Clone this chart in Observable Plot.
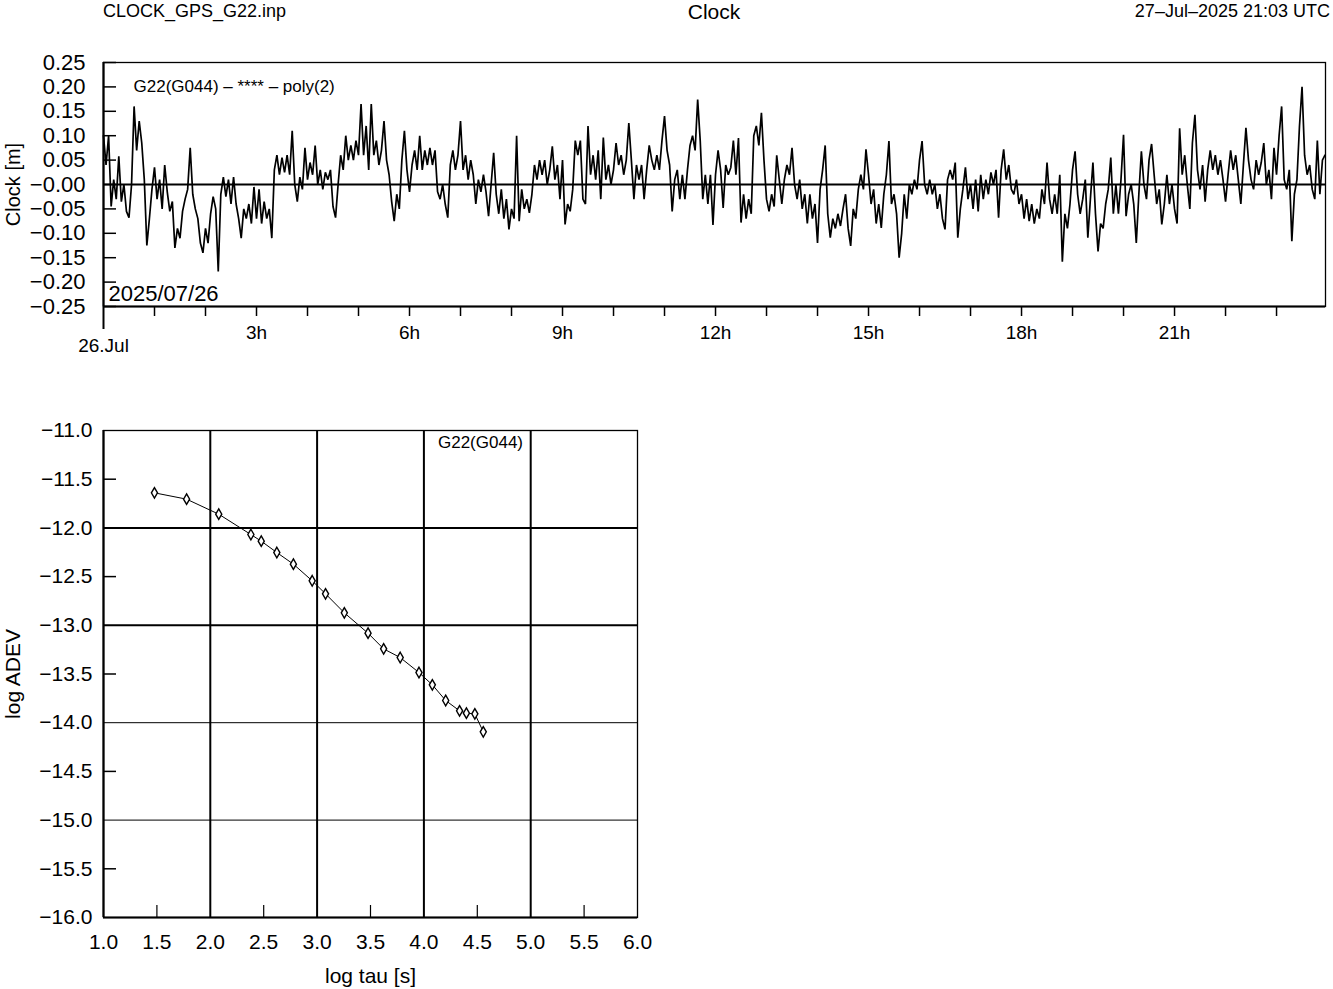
<!DOCTYPE html>
<html><head><meta charset="utf-8">
<script src="https://cdn.jsdelivr.net/npm/d3@7"></script>
<script src="https://cdn.jsdelivr.net/npm/@observablehq/plot@0.6"></script>
<style>
body{margin:0;background:#fff;font-family:"Liberation Sans",Arial,Helvetica,sans-serif;}
#page{position:relative;width:1333px;height:989px;overflow:hidden;background:#fff}
.hdr{position:absolute;top:0;font-size:18px;line-height:22px;color:#000;white-space:nowrap}
#top,#bot{position:absolute;left:0}
#top{top:0}#bot{top:370px}
</style></head><body>
<div id="page">
<div id="top"></div><div id="bot"></div>
<div class="hdr" style="left:103px;top:0px">CLOCK_GPS_G22.inp</div>
<div class="hdr" style="left:0;width:1428px;text-align:center;font-size:21px;top:0px;line-height:24px">Clock</div>
<div class="hdr" style="right:3px;top:0px">27–Jul–2025 21:03 UTC</div>
</div>
<script>
const stepH = 0.05;
const clock00_04 = [0.10,0.04,0.10,-0.045,0.01,-0.03,0.058,-0.035,0.00,-0.055,
-0.068,0.00,0.16,0.07,0.13,0.085,0.01,-0.125,-0.07,-0.01,
0.035,-0.03,0.01,-0.05,0.04,-0.015,-0.055,-0.035,-0.13,-0.09,
-0.11,-0.055,-0.03,-0.01,0.075,-0.02,-0.05,-0.07,-0.12,-0.14,
-0.09,-0.12,-0.06,-0.025,-0.05,-0.178,-0.02,0.015,-0.025,0.01,
-0.04,0.015,-0.04,-0.07,-0.11,-0.05,-0.07,-0.04,-0.08,-0.005,
-0.07,-0.01,-0.08,-0.035,-0.07,-0.05,-0.11,0.03,0.06,0.02,
0.055,0.025,0.06,0.02,0.11,0.00,-0.035,0.015,-0.01,0.075];
const clock04_08 = [0.01,0.045,0.02,0.08,0.00,0.03,-0.01,0.025,0.01,0.03,
-0.045,-0.068,0.00,0.06,0.03,0.10,0.05,0.08,0.05,0.09,
0.06,0.165,0.06,0.12,0.03,0.165,0.06,0.09,0.04,0.07,
0.13,0.05,0.02,-0.035,-0.075,-0.02,-0.05,0.05,0.11,0.03,
-0.015,0.04,0.07,0.03,0.10,0.03,0.07,0.04,0.075,0.04,
0.07,-0.015,-0.03,0.00,-0.04,-0.068,0.04,0.07,0.03,0.06,
0.13,0.03,0.06,0.01,0.05,0.02,-0.04,0.01,-0.015,0.02,
-0.015,-0.065,0.00,0.065,-0.02,-0.06,-0.01,-0.07,-0.03,-0.092];
const clock08_12 = [-0.05,-0.07,0.10,-0.075,-0.01,-0.05,-0.03,-0.058,-0.02,0.04,
0.01,0.05,0.02,0.05,0.00,0.03,0.078,0.01,0.04,-0.03,
0.05,-0.082,-0.04,-0.055,-0.01,0.09,0.06,0.09,-0.03,-0.04,
0.12,0.02,0.06,0.01,0.07,-0.03,0.096,0.01,0.04,0.00,
0.03,0.085,0.04,0.06,0.02,0.05,0.126,0.05,-0.03,0.04,
0.01,0.04,-0.03,0.03,0.08,0.05,0.03,0.06,0.03,0.09,
0.14,0.07,0.04,-0.055,0.01,0.03,-0.03,0.02,-0.03,0.03,
0.08,0.10,0.07,0.174,0.09,-0.03,0.02,-0.04,0.02,-0.083];
const clock12_16 = [0.02,0.07,0.03,-0.048,0.04,0.02,0.035,0.09,0.02,0.095,
-0.078,-0.02,-0.07,-0.03,-0.06,0.10,0.12,0.08,0.147,0.05,
-0.03,-0.055,-0.02,-0.045,0.06,0.01,-0.04,0.01,0.04,0.02,
0.075,0.00,-0.03,0.01,-0.05,-0.02,-0.08,-0.02,-0.07,-0.04,
-0.12,-0.01,0.03,0.08,-0.06,-0.109,-0.07,-0.09,-0.06,-0.085,
-0.05,-0.02,-0.09,-0.126,-0.05,-0.07,-0.01,0.02,-0.01,0.072,
0.02,-0.04,-0.01,-0.08,-0.04,-0.089,-0.02,0.02,0.089,-0.04,
-0.02,-0.06,-0.15,-0.10,-0.02,-0.07,0.00,-0.02,0.01,-0.01];
const clock16_20 = [0.05,0.089,0.00,-0.02,0.01,-0.02,0.00,-0.05,-0.02,-0.07,
-0.092,0.01,0.03,0.01,0.045,-0.109,-0.05,-0.01,0.035,-0.03,
0.00,-0.05,0.01,-0.055,0.02,-0.03,0.01,-0.02,0.025,0.00,
0.03,-0.068,0.03,0.072,0.01,0.04,-0.01,-0.02,0.01,-0.04,
-0.02,-0.07,-0.03,-0.075,-0.04,-0.08,-0.05,-0.07,-0.01,-0.04,
0.045,-0.03,-0.06,-0.02,-0.06,0.02,-0.158,-0.06,-0.09,-0.04,
0.03,0.068,-0.02,-0.06,-0.03,0.01,-0.109,-0.03,0.045,-0.06,
-0.137,-0.08,-0.09,-0.04,-0.01,0.055,-0.06,0.00,-0.06,0.01];
const clock20_24 = [0.102,-0.065,-0.02,0.00,-0.04,-0.12,-0.02,0.068,0.00,-0.03,
0.05,0.083,0.02,-0.04,-0.01,-0.082,-0.04,0.02,-0.04,0.00,
-0.05,-0.08,0.115,0.02,0.06,0.00,-0.05,0.085,0.143,0.03,
-0.01,0.04,-0.035,0.03,0.07,0.03,0.06,0.02,0.05,0.01,
-0.035,0.02,0.07,0.03,0.06,0.01,-0.04,0.04,0.116,0.05,
0.01,-0.01,0.05,0.02,0.045,0.085,0.00,0.03,-0.03,0.075,
0.02,0.10,0.16,0.01,-0.01,0.03,-0.116,-0.02,0.01,0.12,
0.20,0.06,0.02,0.04,-0.01,-0.03,0.09,-0.02,0.05,0.06];
const clockM = [...clock00_04,...clock04_08,...clock08_12,...clock12_16,...clock16_20,...clock20_24];
const clockSeries = clockM.map((v,i)=>({t:i*stepH, v}));

const clockYTicks = [-0.25,-0.20,-0.15,-0.10,-0.05,0,0.05,0.10,0.15,0.20,0.25];
const hourTicks = [1,2,3,4,5,6,7,8,9,10,11,12,13,14,15,16,17,18,19,20,21,22,23];
const dayLabel = "26.Jul";
const dateLabel = "2025/07/26";
const clockTitle = "G22(G044) – **** – poly(2)";

// ---- Allan deviation
const logTau  = [1.477,1.778,2.079,2.380,2.477,2.623,2.778,2.954,3.079,3.255,3.477,3.623,3.778,3.954,4.079,4.204,4.334,4.398,4.477,4.556];
const logAdev = [-11.64,-11.705,-11.859,-12.068,-12.136,-12.253,-12.372,-12.543,-12.677,-12.872,-13.081,-13.242,-13.331,-13.485,-13.611,-13.772,-13.878,-13.902,-13.909,-14.094];
const adevSeries = logTau.map((x,i)=>({x, y:logAdev[i]}));
const adevXTicks = [1.0,1.5,2.0,2.5,3.0,3.5,4.0,4.5,5.0,5.5,6.0];
const adevYTicks = [-16.0,-15.5,-15.0,-14.5,-14.0,-13.5,-13.0,-12.5,-12.0,-11.5,-11.0];
const adevMinorX = [1.5,2.5,3.5,4.5,5.5];
const adevMinorY = [-15.5,-14.5,-13.5,-12.5,-11.5];
const adevLabel = "G22(G044)";

const FONT = '"Liberation Sans", Arial, Helvetica, sans-serif';
const fmt2 = d3.format(".2f"), fmt1 = d3.format(".1f");

// ---------- top chart
const T = {w:1333,h:370,ml:103,mr:8,mt:62,mb:64};
const topPlot = Plot.plot({
  width:T.w, height:T.h, marginLeft:T.ml, marginRight:T.mr, marginTop:T.mt, marginBottom:T.mb,
  style:{fontFamily:FONT, fontSize:"21px", color:"#000", background:"transparent"},
  x:{domain:[0,23.96], label:null},
  y:{domain:[-0.25,0.25], label:null},
  marks:[
    Plot.frame({stroke:"#000", strokeWidth:1.3}),
    Plot.ruleX([0],{stroke:"#000",strokeWidth:2.2}),
    Plot.ruleY([-0.25],{stroke:"#000",strokeWidth:2.2}),
    Plot.ruleY([0],{stroke:"#000",strokeWidth:2}),
    Plot.line(clockSeries,{x:"t",y:"v",stroke:"#000",strokeWidth:1.7,strokeLinejoin:"miter"}),
    Plot.tickY(clockYTicks,{y:d=>d,stroke:"#000",strokeWidth:1.5,insetRight:(T.w-T.ml-T.mr)-13}),
    Plot.axisY(clockYTicks,{anchor:"left",tickSize:0,tickPadding:18,fontSize:22,
      tickFormat:d=> d===0 ? "−0.00" : fmt2(d)}),
    Plot.axisX(hourTicks,{anchor:"bottom",tickSize:10,tickPadding:9,fontSize:19,strokeWidth:1.5,
      tickFormat:d=> d%3===0 ? d+"h" : ""}),
    Plot.axisX([0],{anchor:"bottom",tickSize:23,tickPadding:9,fontSize:19,strokeWidth:2,
      tickFormat:()=>dayLabel}),
    Plot.text(["Clock [m]"],{frameAnchor:"left",dx:-90,rotate:-90,fontSize:20,textAnchor:"middle",lineAnchor:"middle",fill:"#000"}),
    Plot.text([clockTitle],{frameAnchor:"top-left",dx:30,dy:24,textAnchor:"start",lineAnchor:"middle",fontSize:17,fill:"#000"}),
    Plot.text([dateLabel],{frameAnchor:"bottom-left",dx:5,dy:-13,textAnchor:"start",lineAnchor:"middle",fontSize:22,fill:"#000"})
  ]
});
document.getElementById("top").appendChild(topPlot);

// ---------- bottom chart
const B = {w:660,h:619,ml:103,mr:23,mt:60,mb:72};
const botPlot = Plot.plot({
  width:B.w, height:B.h, marginLeft:B.ml, marginRight:B.mr, marginTop:B.mt, marginBottom:B.mb,
  style:{fontFamily:FONT, fontSize:"21px", color:"#000", background:"transparent"},
  x:{domain:[1,6], label:null},
  y:{domain:[-16,-11], label:null},
  marks:[
    Plot.ruleX([2,3,4,5],{stroke:"#000",strokeWidth:2}),
    Plot.ruleY([-12,-13],{stroke:"#000",strokeWidth:2}),
    Plot.ruleY([-14,-15],{stroke:"#000",strokeWidth:1}),
    Plot.frame({stroke:"#000",strokeWidth:1.3}),
    Plot.ruleX([1],{stroke:"#000",strokeWidth:2.2}),
    Plot.ruleY([-16],{stroke:"#000",strokeWidth:2.2}),
    Plot.tickY(adevMinorY,{y:d=>d,stroke:"#000",strokeWidth:1.5,insetRight:(B.w-B.ml-B.mr)-13}),
    Plot.tickX(adevMinorX,{x:d=>d,stroke:"#000",strokeWidth:1.2,insetTop:(B.h-B.mt-B.mb)-12}),
    Plot.axisY(adevYTicks,{anchor:"left",tickSize:0,tickPadding:11,fontSize:21,tickFormat:fmt1}),
    Plot.axisX(adevXTicks,{anchor:"bottom",tickSize:0,tickPadding:17,fontSize:21,tickFormat:fmt1}),
    Plot.line(adevSeries,{x:"x",y:"y",stroke:"#000",strokeWidth:1}),
    Plot.dot(adevSeries,{x:"x",y:"y",symbol:"diamond",r:3.2,stroke:"#000",fill:"#fff",strokeWidth:1.4}),
    Plot.text(["log ADEV"],{frameAnchor:"left",dx:-90,rotate:-90,fontSize:21,textAnchor:"middle",lineAnchor:"middle",fill:"#000"}),
    Plot.text(["log tau [s]"],{frameAnchor:"bottom",dy:59,fontSize:21,textAnchor:"middle",lineAnchor:"middle",fill:"#000"}),
    Plot.text([adevLabel],{frameAnchor:"top",dx:110,dy:12,fontSize:17,textAnchor:"middle",lineAnchor:"middle",fill:"#000"})
  ]
});
document.getElementById("bot").appendChild(botPlot);
</script>
</body></html>
